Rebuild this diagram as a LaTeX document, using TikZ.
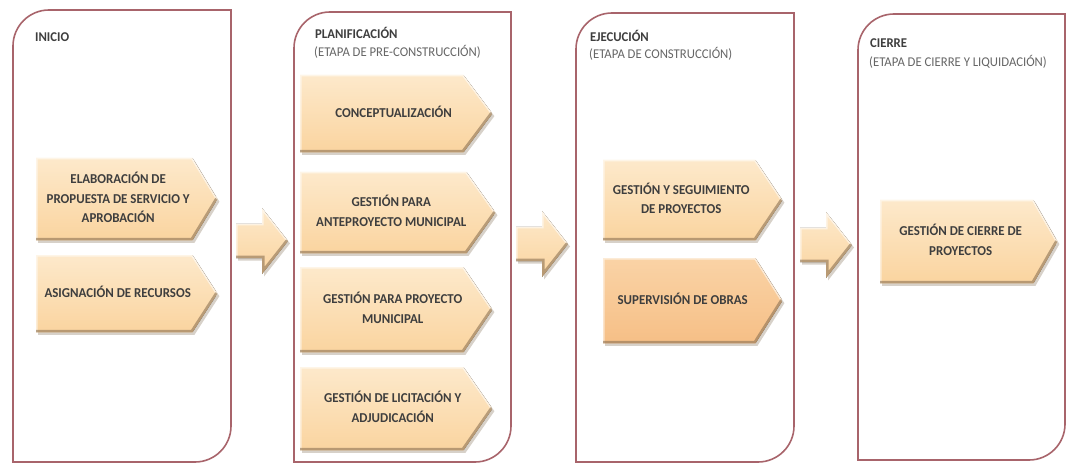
\documentclass[tikz,border=0pt]{standalone}
\usepackage{fontspec}
\setmainfont{Carlito}[FakeStretch=0.95]
\usetikzlibrary{calc}

\definecolor{framec}{HTML}{A8646B}
\definecolor{peachT}{HTML}{FDE9CB}
\definecolor{peachB}{HTML}{FAD49F}
\definecolor{orangeT}{HTML}{FAD3A6}
\definecolor{orangeB}{HTML}{F6BF86}
\definecolor{bevelc}{HTML}{8C7254}
\definecolor{shadowc}{HTML}{A89A88}
\definecolor{txtc}{HTML}{3E3E3E}
\definecolor{subc}{HTML}{666666}

\pgfdeclarelayer{paper}
\pgfdeclarelayer{background}
\pgfsetlayers{paper,background,main}

\tikzset{
  frame/.style={draw=framec,line width=1.6pt},
  stagebox/.style={anchor=north west,inner sep=0pt,text=txtc,
    font=\fontsize{13.6}{19.5}\selectfont\bfseries},
  peachfill/.style={top color=peachT,bottom color=peachB},
  orangefill/.style={top color=orangeT,bottom color=orangeB},
  boxshadow/.style={fill=shadowc,opacity=.45},
  hilite/.style={draw=white,line width=3pt,opacity=.55},
  lowlite/.style={draw=bevelc,line width=5pt,opacity=.6},
  title/.style={anchor=west,inner sep=0pt,text=txtc,
    font=\fontsize{13.4}{16}\selectfont\bfseries},
  subtitle/.style={anchor=west,inner sep=0pt,text=subc,
    font=\fontsize{13.4}{16}\selectfont},
  bigarrow/.pic={
    \fill[boxshadow] (2,-14.5) -- (28,-14.5) -- (28,-30.5) -- (54,2.5)
      -- (28,35.5) -- (28,19.5) -- (2,19.5) -- cycle;
    \begin{scope}
      \clip (0,-17) -- (26,-17) -- (26,-33) -- (52,0) -- (26,33)
        -- (26,17) -- (0,17) -- cycle;
      \fill[peachfill] (0,-33) rectangle (52,33);
      \draw[hilite] (0,17) -- (0,-17) -- (26,-17) -- (26,-33) -- (52,0);
      \draw[lowlite] (0,17) -- (26,17) -- (26,33) -- (52,0);
    \end{scope}
  }
}

% phase frame: rounded top-left and bottom-right corners
% #1 left, #2 top, #3 right, #4 bottom, #5 corner radius
\newcommand\stageframe[5]{%
  \draw[frame] (#1,#4) -- (#1,#2+#5)
    .. controls (#1,#2+0.448*#5) and (#1+0.448*#5,#2) .. (#1+#5,#2)
    -- (#3,#2) -- (#3,#4-#5)
    .. controls (#3,#4-0.448*#5) and (#3-0.448*#5,#4) .. (#3-#5,#4)
    -- cycle;}

% activity chevron
% #1 name, #2 left, #3 top, #4 body right, #5 bottom, #6 tip depth,
% #7 fill style, #8 text offset, #9 text
\newcommand\chev[9]{%
  \node[stagebox,minimum width={#4-#2},minimum height={#5-#3}] (#1) at (#2,#3)
    {\hspace*{#8pt}\raisebox{-2.5pt}{\begin{tabular}{@{}c@{}}#9\end{tabular}}};
  \begin{pgfonlayer}{background}
    \fill[boxshadow] ([shift={(2,2.5)}]#1.north west) -- ([shift={(2,2.5)}]#1.north east)
      -- ([shift={(#6+2,2.5)}]#1.east) -- ([shift={(2,2.5)}]#1.south east)
      -- ([shift={(2,2.5)}]#1.south west) -- cycle;
    \begin{scope}
      \clip (#1.north west) -- (#1.north east) -- ([xshift=#6pt]#1.east)
        -- (#1.south east) -- (#1.south west) -- cycle;
      \fill[#7] (#1.north west) rectangle ([xshift=#6pt]#1.south east);
      \draw[hilite] (#1.south west) -- (#1.north west) -- (#1.north east)
        -- ([xshift=#6pt]#1.east);
      \draw[lowlite] (#1.south west) -- (#1.south east) -- ([xshift=#6pt]#1.east);
    \end{scope}
  \end{pgfonlayer}}

\begin{document}
\begin{tikzpicture}[x=1pt,y=-1pt]
  \begin{pgfonlayer}{paper}
    \fill[white] (0,0) rectangle (1068,465);
  \end{pgfonlayer}
  \useasboundingbox (0,0) rectangle (1068,465);

  % phase frames
  \stageframe{13}{10}{231}{462}{36}
  \stageframe{294}{12}{511}{462}{36}
  \stageframe{576}{13}{794}{462}{36}
  \stageframe{858}{14}{1065}{460}{36}

  % phase titles
  \node[title] (t1) at (35,37) {INICIO};
  \node[title] (t2) at (315,33) {PLANIFICACIÓN};
  \node[subtitle] (s2) at (314,52) {(ETAPA DE PRE-CONSTRUCCIÓN)};
  \node[title] (t3) at (590,36) {EJECUCIÓN};
  \node[subtitle] (s3) at (589,54) {(ETAPA DE CONSTRUCCIÓN)};
  \node[title] (t4) at (870,43) {CIERRE};
  \node[subtitle] (s4) at (869,62) {(ETAPA DE CIERRE Y LIQUIDACIÓN)};

  % activities
  \chev{a1}{36}{158}{192}{240}{25}{peachfill}{8}{ELABORACIÓN DE\\PROPUESTA DE SERVICIO Y\\APROBACIÓN}
  \chev{a2}{36}{255}{192}{332}{25}{peachfill}{7}{ASIGNACIÓN DE RECURSOS}

  \chev{p1}{300}{75}{463}{152}{29}{peachfill}{24}{CONCEPTUALIZACIÓN}
  \chev{p2}{300}{172}{463}{253}{29}{peachfill}{16}{GESTIÓN PARA\\ANTEPROYECTO MUNICIPAL}
  \chev{p3}{300}{267}{463}{352}{29}{peachfill}{22}{GESTIÓN PARA PROYECTO\\MUNICIPAL}
  \chev{p4}{300}{367}{463}{450}{29}{peachfill}{22}{GESTIÓN DE LICITACIÓN Y\\ADJUDICACIÓN}

  \chev{e1}{603}{160}{755}{240}{27}{peachfill}{4}{GESTIÓN Y SEGUIMIENTO\\DE PROYECTOS}
  \chev{e2}{603}{258}{755}{343}{27}{orangefill}{7}{SUPERVISIÓN DE OBRAS}

  \chev{c1}{880}{200}{1033}{283}{24}{peachfill}{8}{GESTIÓN DE CIERRE DE\\PROYECTOS}

  % transitions between phases
  \coordinate (ar1) at (236,241);
  \coordinate (ar2) at (516,244);
  \coordinate (ar3) at (800,245);
  \pic at (ar1) {bigarrow};
  \pic at (ar2) {bigarrow};
  \pic at (ar3) {bigarrow};
\end{tikzpicture}
\end{document}
